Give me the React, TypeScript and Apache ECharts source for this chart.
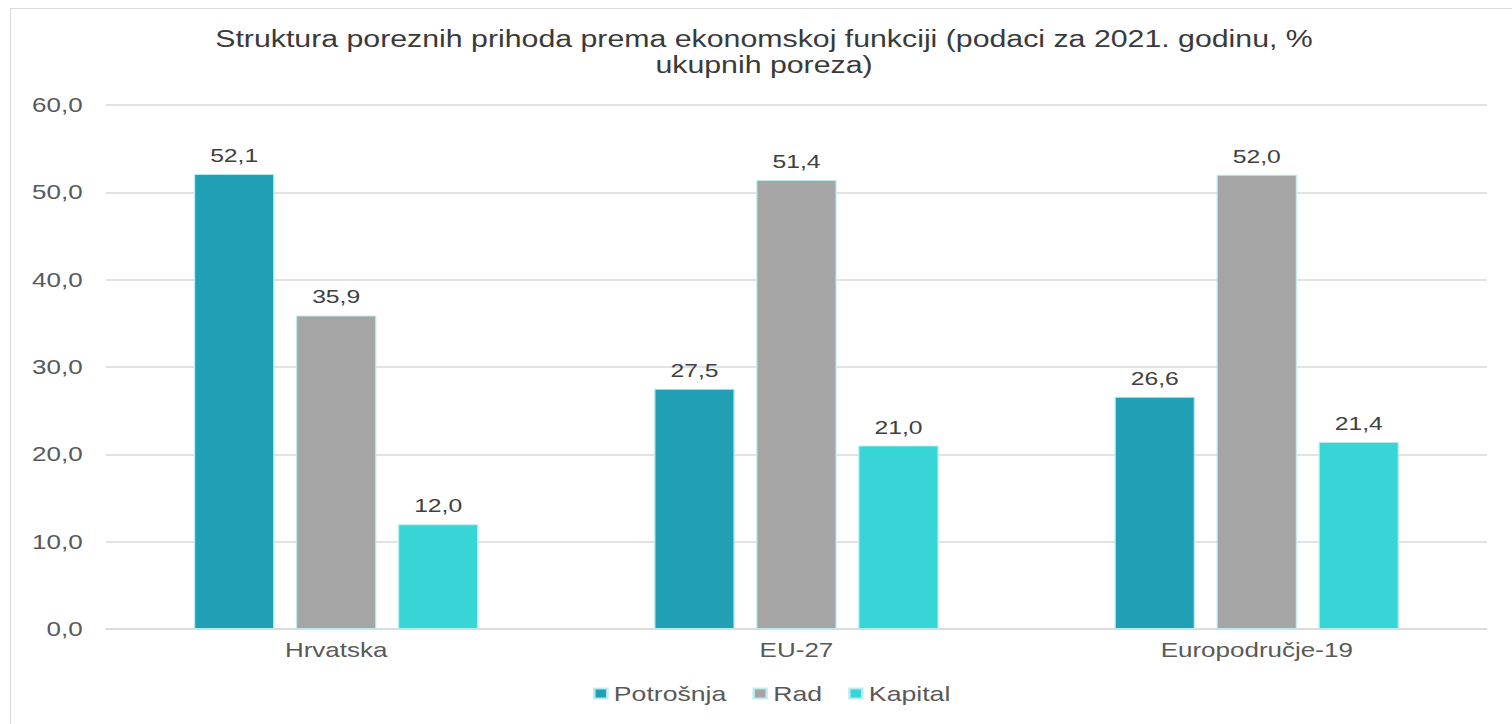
import React, { useEffect, useRef } from "react";
import * as echarts from "echarts";

const categories = ["Hrvatska", "EU-27", "Europodručje-19"];
const potrosnja = [52.1, 27.5, 26.6];
const rad = [35.9, 51.4, 52.0];
const kapital = [12.0, 21.0, 21.4];
const seriesNames = ["Potrošnja", "Rad", "Kapital"];
const titleLines = [
  "Struktura poreznih prihoda prema ekonomskoj funkciji (podaci za 2021. godinu, %",
  "ukupnih poreza)",
];

const S = 1.3;
const PW = 1512;
const PH = 724;
const W = PW / S;
const FONT = "'Liberation Sans', Arial, sans-serif";
const fmt = (v: number) => v.toFixed(1).replace(".", ",");

export default function App() {
  const ref = useRef<HTMLDivElement>(null);
  useEffect(() => {
    const chart = echarts.init(ref.current!, null, { renderer: "svg" });
    const colors = ["#21A0B5", "#A5A5A5", "#38D5D7"];
    const data = [potrosnja, rad, kapital];
    chart.setOption({
      animation: false,
      color: colors,
      textStyle: { fontFamily: FONT },
      title: {
        text: titleLines.join("\n"),
        left: 764 / S,
        top: 26,
        textAlign: "center",
        padding: 0,
        textStyle: {
          fontFamily: FONT,
          fontSize: 23.3,
          fontWeight: "normal",
          color: "#3a3a3a",
          lineHeight: 26,
        },
      },
      legend: {
        left: 593 / S,
        top: 683,
        itemWidth: 10,
        itemHeight: 10,
        itemGap: 20,
        icon: "rect",
        padding: 0,
        textStyle: { fontFamily: FONT, fontSize: 20.5, color: "#595959" },
        data: seriesNames,
      },
      grid: {
        left: 106 / S,
        right: W - 1487 / S,
        top: 105,
        bottom: PH - 629,
        containLabel: false,
      },
      xAxis: {
        type: "category",
        data: categories,
        axisLine: { lineStyle: { color: "#d9d9d9", width: 1.5 } },
        axisTick: { show: false },
        axisLabel: {
          fontFamily: FONT,
          fontSize: 20,
          color: "#595959",
          margin: 11,
        },
      },
      yAxis: {
        type: "value",
        min: 0,
        max: 60,
        interval: 10,
        axisLine: { show: false },
        axisTick: { show: false },
        splitLine: { lineStyle: { color: "#d9d9d9", width: 1.5 } },
        axisLabel: {
          fontFamily: FONT,
          fontSize: 20,
          color: "#595959",
          margin: 18,
          formatter: (v: number) => fmt(v),
        },
      },
      series: seriesNames.map((name, i) => ({
        name,
        type: "bar",
        data: data[i],
        barWidth: 80.5 / S,
        barGap: "26.7%",
        itemStyle: {
          color: colors[i],
          borderColor: "rgba(190,236,240,0.9)",
          borderWidth: 1,
        },
        label: {
          show: true,
          position: "top",
          distance: 9,
          fontFamily: FONT,
          fontSize: 19,
          color: "#404040",
          formatter: (p: any) => fmt(p.value),
        },
      })),
    });
    return () => chart.dispose();
  }, []);

  return (
    <div
      style={{
        position: "fixed",
        left: 0,
        top: 0,
        width: PW,
        height: PH,
        overflow: "hidden",
        background: "#fff",
      }}
    >
      <div
        style={{
          position: "absolute",
          left: 10,
          top: 8,
          width: 1600,
          height: 800,
          border: "1px solid #d9d9d9",
          boxSizing: "border-box",
        }}
      />
      <div
        ref={ref}
        style={{
          position: "absolute",
          left: 0,
          top: 0,
          width: W,
          height: PH,
          transform: `scaleX(${S})`,
          transformOrigin: "0 0",
        }}
      />
    </div>
  );
}
